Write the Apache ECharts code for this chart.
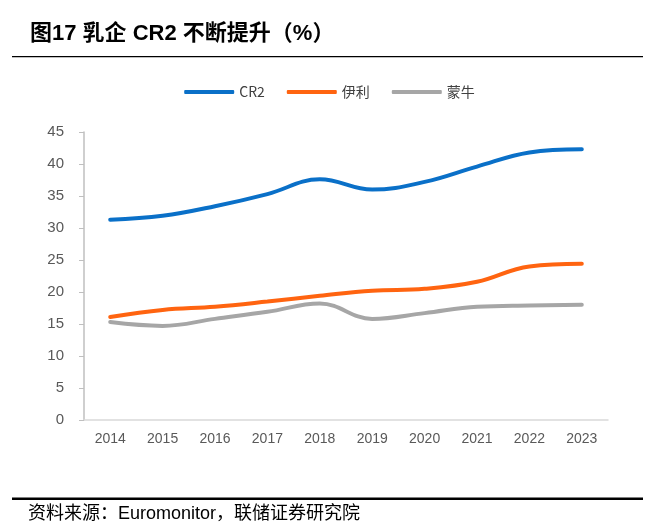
<!DOCTYPE html>
<html><head><meta charset="utf-8">
<script src="https://cdn.jsdelivr.net/npm/echarts@6/dist/echarts.min.js"></script>
<style>html,body{margin:0;padding:0;background:#fff}#c{width:659px;height:529px}</style>
</head><body><div id="c"></div>
<script>
const years = ['2014','2015','2016','2017','2018','2019','2020','2021','2022','2023'];
const cr2 = [31.3, 31.9, 33.4, 35.3, 37.6, 36.0, 37.2, 39.6, 41.8, 42.3];
const yili = [16.1, 17.2, 17.7, 18.5, 19.4, 20.2, 20.5, 21.6, 24.0, 24.4];
const mengniu = [15.3, 14.7, 15.8, 16.9, 18.2, 15.8, 16.7, 17.7, 17.9, 18.0];
const seriesNames = ['CR2', '伊利', '蒙牛'];

const chart = echarts.init(document.getElementById('c'));
const mk = (name, data, color) => ({
  name, type: 'line', data, smooth: 0.4, showSymbol: false, symbol: 'none',
  lineStyle: { width: 4, color, cap: 'round' }, itemStyle: { color }
});
chart.setOption({
  animation: false,
  textStyle: { fontFamily: '"Liberation Sans", "Noto Sans CJK SC", sans-serif' },
  graphic: [
    { type: 'text', left: 30, top: 23, style: { text: '图17 乳企 CR2 不断提升（%）', font: 'bold 22px "Liberation Sans", "Noto Sans CJK SC", sans-serif', fill: '#000' } },
    { type: 'rect', shape: { x: 12, y: 56, width: 631, height: 1.2 }, style: { fill: '#000' } },
    { type: 'rect', shape: { x: 12, y: 497.5, width: 631, height: 2.5 }, style: { fill: '#000' } },
    { type: 'text', left: 28, top: 505, style: { text: '资料来源：Euromonitor，联储证券研究院', font: '18px "Liberation Sans", "Noto Sans CJK SC", sans-serif', fill: '#000' } }
  ],
  legend: {
    top: 80, left: 'center', itemWidth: 50, itemGap: 22, itemHeight: 4,
    icon: 'roundRect',
    textStyle: { fontSize: 14, color: '#404040', fontFamily: '"Noto Sans CJK SC", sans-serif' },
    data: seriesNames
  },
  grid: { left: 84, right: 51, top: 132, bottom: 109 },
  xAxis: {
    type: 'category', data: years, boundaryGap: true,
    axisLine: { lineStyle: { color: '#D9D9D9', width: 1.5 } },
    axisTick: { show: false },
    axisLabel: { color: '#595959', fontSize: 14, margin: 12 }
  },
  yAxis: {
    type: 'value', min: 0, max: 45, interval: 5,
    axisLine: { show: true, lineStyle: { color: '#BFBFBF', width: 1.5 } },
    axisTick: { show: true, length: 5, lineStyle: { color: '#BFBFBF' } },
    splitLine: { show: false },
    axisLabel: { color: '#595959', fontSize: 15, margin: 20 }
  },
  series: [
    mk(seriesNames[0], cr2, '#0A70C8'),
    mk(seriesNames[1], yili, '#FF6410'),
    mk(seriesNames[2], mengniu, '#A6A6A6')
  ]
});
</script></body></html>
